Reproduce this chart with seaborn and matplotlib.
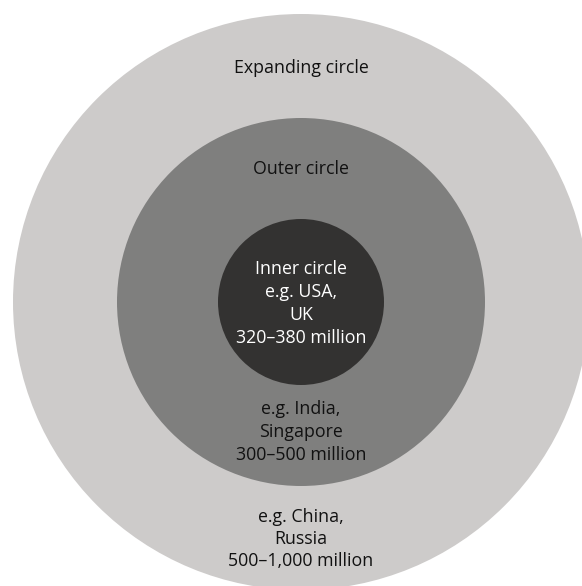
import matplotlib
matplotlib.use("Agg")
import matplotlib.pyplot as plt
from matplotlib.patches import Circle
import seaborn as sns

# Kachru's three circles of English
circle_names = ["Expanding circle", "Outer circle", "Inner circle"]
circle_radius = [288, 184, 83]
circle_colors = ["#cdcbca", "#7f7f7e", "#333231"]

inner_text = ["Inner circle", "e.g. USA,", "UK", "320\u2013380 million"]
outer_text = ["e.g. India,", "Singapore", "300\u2013500 million"]
expanding_text = ["e.g. China,", "Russia", "500\u20131,000 million"]

sns.set_theme(style="white")
plt.rcParams['font.family'] = ['Open Sans', 'DejaVu Sans']

fig = plt.figure(figsize=(5.82, 5.86), dpi=100)
ax = fig.add_axes([0, 0, 1, 1])
ax.set_xlim(0, 582)
ax.set_ylim(586, 0)
ax.set_aspect('equal')
ax.axis('off')

cx, cy = 301, 302
for r, c in zip(circle_radius, circle_colors):
    ax.add_patch(Circle((cx, cy), r, facecolor=c, edgecolor='none'))

fs = 12.8
dark = '#111111'
ax.text(cx, 68, circle_names[0], ha='center', va='center', fontsize=fs, color=dark)
ax.text(cx, 169, circle_names[1], ha='center', va='center', fontsize=fs, color=dark)

line_h = 23
for i, t in enumerate(inner_text):
    ax.text(cx, 269 + i * line_h, t, ha='center', va='center', fontsize=fs, color='white')
for i, t in enumerate(outer_text):
    ax.text(cx, 409 + i * line_h, t, ha='center', va='center', fontsize=fs, color=dark)
for i, t in enumerate(expanding_text):
    ax.text(cx, 517 + i * 22, t, ha='center', va='center', fontsize=fs, color=dark)

fig.savefig("out.png", dpi=100)
